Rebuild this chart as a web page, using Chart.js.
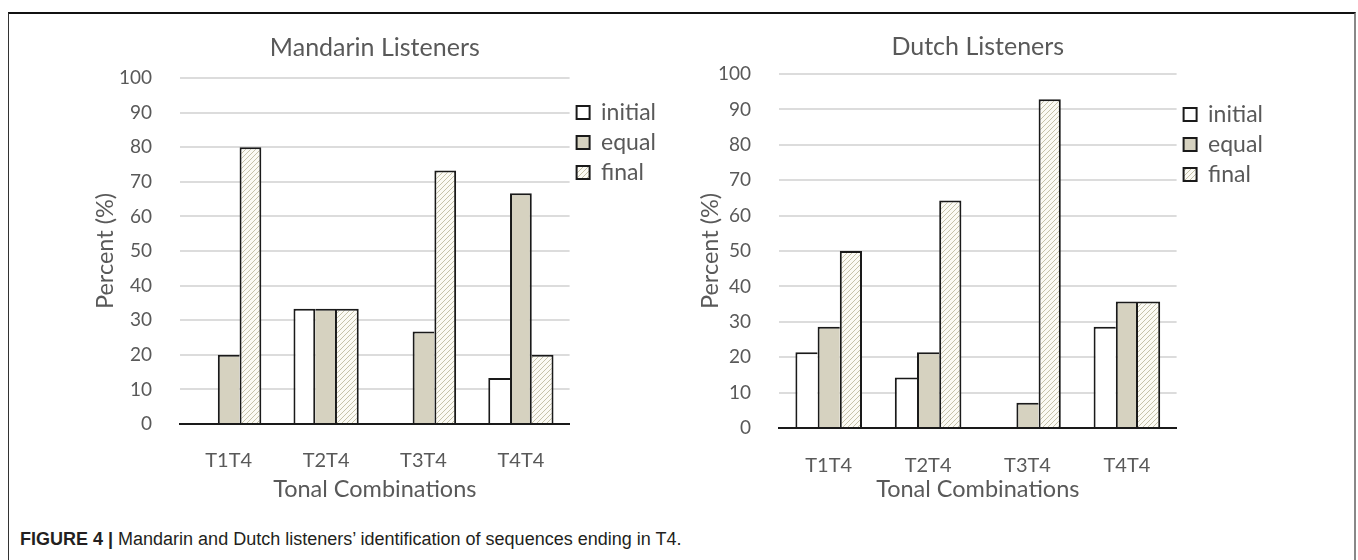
<!DOCTYPE html>
<html>
<head>
<meta charset="utf-8">
<script src="https://cdn.jsdelivr.net/npm/chart.js@4"></script>
<style>
  body { margin: 0; background: #fff; width: 1358px; height: 560px; overflow: hidden; position: relative; }
  #frame { position: absolute; left: 8px; top: 12px; width: 1345px; height: 600px;
           border-top: 2px solid #111; border-left: 1px solid #333; border-right: 2px solid #888; }
  canvas { position: absolute; top: 0; }
  #leftChart { left: 0; }
  #rightChart { left: 600px; }
  #caption { position: absolute; left: 20px; top: 529px; font-family: "Liberation Sans", sans-serif;
             font-size: 18px; color: #231f20; white-space: nowrap; }
  #caption b { font-weight: bold; }
</style>
</head>
<body>
<div id="frame"></div>
<canvas id="leftChart" width="680" height="514"></canvas>
<canvas id="rightChart" width="758" height="518"></canvas>
<div id="caption"><b>FIGURE 4 |</b> Mandarin and Dutch listeners’ identification of sequences ending in T4.</div>
<script>
// données
const categories = ["T1T4", "T2T4", "T3T4", "T4T4"];
const seriesNames = ["initial", "equal", "final"];

const mandarinInitial = [0, 33.3, 0, 13.3];
const mandarinEqual = [20, 33.3, 26.7, 66.7];
const mandarinFinal = [80, 33.3, 73.3, 20];

const dutchInitial = [21.4, 14.3, 0, 28.6];
const dutchEqual = [28.6, 21.4, 7.1, 35.7];
const dutchFinal = [50, 64.3, 92.9, 35.7];

const yMin = 0;
const yMax = 100;
const yStep = 10;

const textGray = "#595959";
const fontFamily = "Lato, 'Open Sans', sans-serif";

// hachures pour la série "final"
function makeHatch() {
  const c = document.createElement("canvas");
  c.width = 5;
  c.height = 5;
  const g = c.getContext("2d");
  g.fillStyle = "#fbfaf4";
  g.fillRect(0, 0, 5, 5);
  g.strokeStyle = "#c6c2a9";
  g.lineWidth = 1;
  g.beginPath();
  g.moveTo(0, 5); g.lineTo(5, 0);
  g.moveTo(-1, 1); g.lineTo(1, -1);
  g.moveTo(4, 6); g.lineTo(6, 4);
  g.stroke();
  return g.createPattern(c, "repeat");
}

// un seul trait entre deux barres voisines
function edgeWidths(ctx, series) {
  const i = ctx.datasetIndex;
  const j = ctx.dataIndex;
  if (j === undefined) return 2;
  const v = series[i][j];
  const prev = i > 0 ? series[i - 1][j] : -1;
  const next = i < series.length - 1 ? series[i + 1][j] : -1;
  return { top: 2, bottom: 0, left: v > prev ? 2 : 0, right: v >= next ? 2 : 0 };
}

function makeChart(id, titleText, series, g) {
  const fills = ["#ffffff", "#d6d2c0", makeHatch()];
  const ctx = document.getElementById(id).getContext("2d");
  return new Chart(ctx, {
    type: "bar",
    data: {
      labels: categories,
      datasets: series.map((values, k) => ({
        label: seriesNames[k],
        data: values,
        backgroundColor: fills[k],
        borderColor: "#1a1a1a",
        borderWidth: (c) => edgeWidths(c, series),
        borderSkipped: false,
        barPercentage: 1,
        categoryPercentage: 0.67,
      })),
    },
    options: {
      responsive: false,
      animation: false,
      devicePixelRatio: 1,
      layout: { padding: { left: g.padLeft, right: g.padRight, top: 0, bottom: 0 } },
      plugins: {
        tooltip: { enabled: false },
        title: {
          display: true,
          text: titleText,
          fullSize: false,
          color: textGray,
          font: { family: fontFamily, size: 25, weight: "normal" },
          padding: { top: g.titleTop, bottom: g.titleBottom },
        },
        legend: {
          position: "right",
          align: "start",
          title: { display: true, text: "", font: { size: 10 }, padding: { top: g.legendTop, bottom: 0 } },
          labels: {
            boxWidth: 13,
            boxHeight: 13,
            padding: 7,
            color: textGray,
            font: { family: fontFamily, size: 23 },
            generateLabels: (chart) =>
              Chart.defaults.plugins.legend.labels.generateLabels(chart).map((item) => {
                item.lineWidth = 2;
                item.strokeStyle = "#1a1a1a";
                return item;
              }),
          },
        },
      },
      scales: {
        x: {
          grid: { display: false },
          border: { display: true, color: "#1a1a1a", width: 2 },
          ticks: { color: textGray, font: { family: fontFamily, size: 20 }, padding: g.xTickPad },
          title: {
            display: true,
            text: "Tonal Combinations",
            color: textGray,
            font: { family: fontFamily, size: 23.5 },
            padding: { top: 0, bottom: g.xTitleBottom },
          },
          afterFit: (scale) => { scale.height = 90; },
        },
        y: {
          min: yMin,
          max: yMax,
          grid: { color: "#dcdcdc", lineWidth: 2, drawTicks: false },
          border: { display: false },
          ticks: { stepSize: yStep, color: textGray, font: { family: fontFamily, size: 19 }, padding: 28 },
          title: {
            display: true,
            text: "Percent (%)",
            color: textGray,
            font: { family: fontFamily, size: 23.5 },
            padding: { top: 4, bottom: 0 },
          },
          afterFit: (scale) => { scale.width = g.yWidth; },
        },
      },
    },
  });
}

makeChart("leftChart", "Mandarin Listeners", [mandarinInitial, mandarinEqual, mandarinFinal], {
  padLeft: 87, padRight: 14, yWidth: 93,
  titleTop: 33, titleBottom: 15, legendTop: 82,
  xTickPad: 17, xTitleBottom: 10,
});

makeChart("rightChart", "Dutch Listeners", [dutchInitial, dutchEqual, dutchFinal], {
  padLeft: 92, padRight: 85, yWidth: 87,
  titleTop: 32, titleBottom: 12, legendTop: 84,
  xTickPad: 18, xTitleBottom: 14,
});
</script>
</body>
</html>
